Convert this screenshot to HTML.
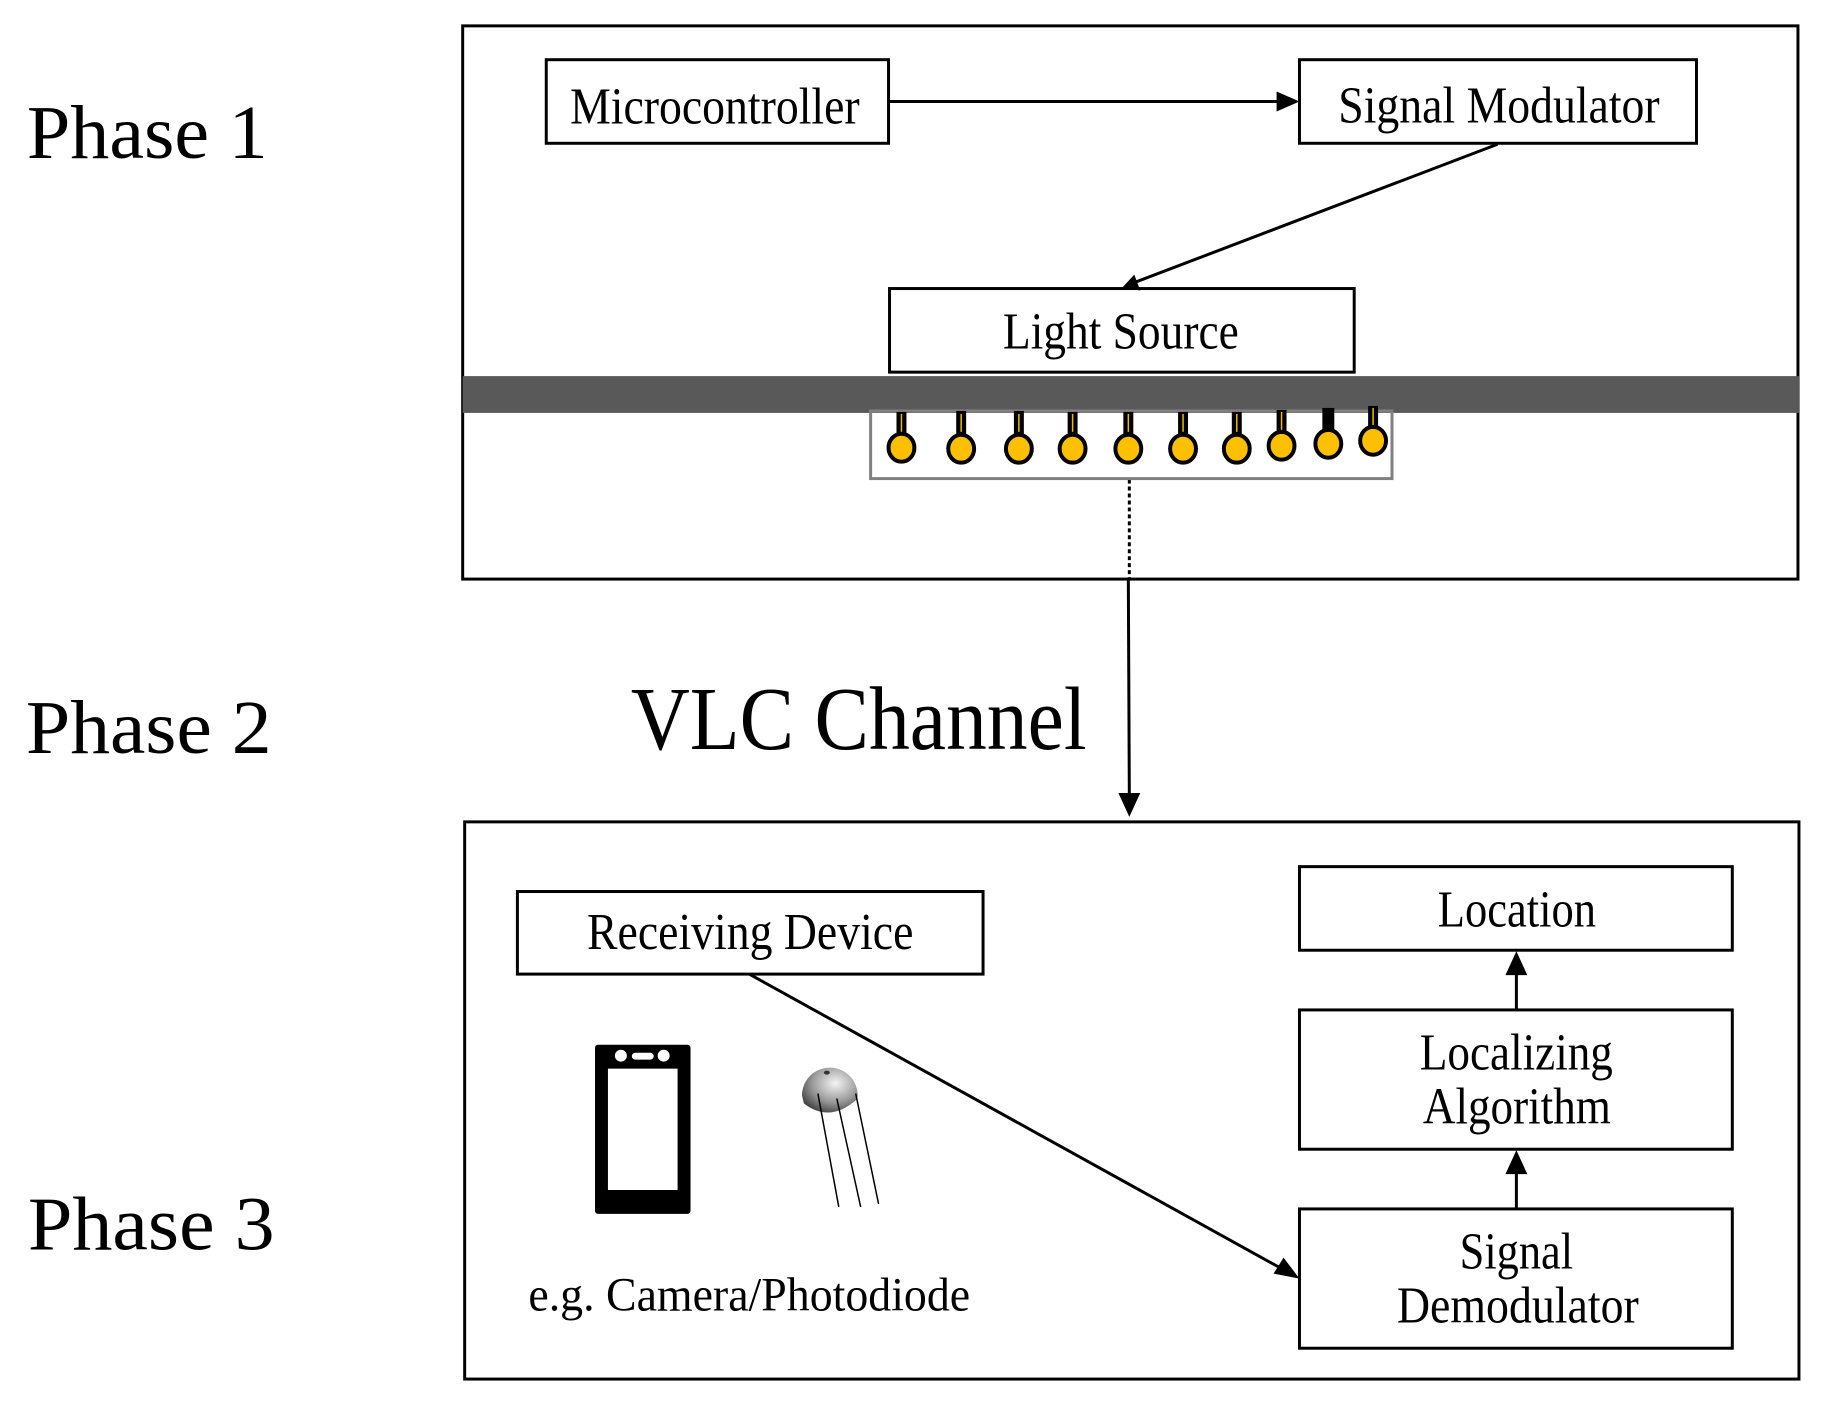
<!DOCTYPE html>
<html><head><meta charset="utf-8"><style>
html,body{margin:0;padding:0;background:#fff}
svg{display:block}
text{font-family:"Liberation Serif",serif;fill:#000}
</style></head><body>
<svg width="1822" height="1408" viewBox="0 0 1822 1408" xmlns="http://www.w3.org/2000/svg">
<defs><radialGradient id="dg" cx="0.6" cy="0.35" r="0.7"><stop offset="0" stop-color="#f4f4f4"/><stop offset="0.6" stop-color="#999"/><stop offset="1" stop-color="#444"/></radialGradient></defs>
<g transform="scale(0.995)">
<g fill="none" stroke="#000" stroke-width="3">
<rect x="465" y="26" width="1342" height="556"/>
<rect x="467" y="826" width="1341" height="560"/>
<rect x="549" y="60" width="344" height="84"/>
<rect x="1306" y="60" width="399" height="84"/>
<rect x="894" y="290" width="467" height="84"/>
<rect x="520" y="896" width="468" height="83"/>
<rect x="1306" y="871" width="435" height="84"/>
<rect x="1306" y="1015" width="435" height="140"/>
<rect x="1306" y="1215" width="435" height="140"/>
</g>
<g stroke="#000" stroke-width="3" fill="none">
<line x1="893" y1="102" x2="1285" y2="102"/>
<line x1="1505" y1="145" x2="1140" y2="284"/>
<line x1="1135" y1="482" x2="1135" y2="582" stroke-dasharray="4,3"/>
<line x1="1134" y1="582" x2="1135" y2="800"/>
<line x1="1524" y1="1015" x2="1524" y2="975"/>
<line x1="1524" y1="1215" x2="1524" y2="1175"/>
<line x1="753" y1="979" x2="1288" y2="1275"/>
</g>
<g fill="#000">
<polygon points="1306,102 1283,92 1283,112"/>
<polygon points="1128,289 1140,276 1146,292"/>
<polygon points="1135,821 1124,797 1146,797"/>
<polygon points="1524,956 1513,980 1535,980"/>
<polygon points="1524,1156 1513,1180 1535,1180"/>
<polygon points="1306,1285 1280,1280 1290,1264"/>
</g>
<rect x="465" y="378" width="1343" height="37" fill="#595959"/>
<rect x="875" y="413" width="524" height="68" fill="none" stroke="#808080" stroke-width="3"/>
<g>
<g transform="translate(906,0)"><rect x="-5" y="414" width="10" height="24" fill="#000"/><line x1="0" y1="416" x2="0" y2="434" stroke="#f4b800" stroke-width="1.5"/><ellipse cx="0" cy="450" rx="13" ry="14" fill="#fcc000" stroke="#000" stroke-width="4"/></g>
<g transform="translate(966,0)"><rect x="-5" y="413" width="10" height="24" fill="#000"/><line x1="0" y1="416" x2="0" y2="434" stroke="#f4b800" stroke-width="1.5"/><ellipse cx="0" cy="451" rx="13" ry="14" fill="#fcc000" stroke="#000" stroke-width="4"/></g>
<g transform="translate(1024,0)"><rect x="-5" y="413" width="10" height="24" fill="#000"/><line x1="0" y1="416" x2="0" y2="434" stroke="#f4b800" stroke-width="1.5"/><ellipse cx="0" cy="451" rx="13" ry="14" fill="#fcc000" stroke="#000" stroke-width="4"/></g>
<g transform="translate(1078,0)"><rect x="-5" y="414" width="10" height="24" fill="#000"/><line x1="0" y1="416" x2="0" y2="434" stroke="#f4b800" stroke-width="1.5"/><ellipse cx="0" cy="451" rx="13" ry="14" fill="#fcc000" stroke="#000" stroke-width="4"/></g>
<g transform="translate(1134,0)"><rect x="-5" y="414" width="10" height="24" fill="#000"/><line x1="0" y1="416" x2="0" y2="434" stroke="#f4b800" stroke-width="1.5"/><ellipse cx="0" cy="451" rx="13" ry="14" fill="#fcc000" stroke="#000" stroke-width="4"/></g>
<g transform="translate(1189,0)"><rect x="-5" y="414" width="10" height="24" fill="#000"/><line x1="0" y1="416" x2="0" y2="434" stroke="#f4b800" stroke-width="1.5"/><ellipse cx="0" cy="451" rx="13" ry="14" fill="#fcc000" stroke="#000" stroke-width="4"/></g>
<g transform="translate(1243,0)"><rect x="-5" y="414" width="10" height="24" fill="#000"/><line x1="0" y1="416" x2="0" y2="434" stroke="#f4b800" stroke-width="1.5"/><ellipse cx="0" cy="451" rx="13" ry="14" fill="#fcc000" stroke="#000" stroke-width="4"/></g>
<g transform="translate(1288,0)"><rect x="-5" y="412" width="10" height="24" fill="#000"/><line x1="0" y1="414" x2="0" y2="432" stroke="#f4b800" stroke-width="1.5"/><ellipse cx="0" cy="448" rx="13" ry="14" fill="#fcc000" stroke="#000" stroke-width="4"/></g>
<g transform="translate(1335,0)"><rect x="-6" y="410" width="12" height="24" fill="#000"/><ellipse cx="0" cy="446" rx="13" ry="14" fill="#fcc000" stroke="#000" stroke-width="4"/></g>
<g transform="translate(1380,0)"><rect x="-5" y="408" width="10" height="24" fill="#000"/><line x1="0" y1="410" x2="0" y2="428" stroke="#f4b800" stroke-width="1.5"/><ellipse cx="0" cy="443" rx="13" ry="14" fill="#fcc000" stroke="#000" stroke-width="4"/></g>
</g>
<g transform="translate(4,6)">
<rect x="594" y="1044" width="96" height="170" rx="3" fill="#000"/>
<rect x="607" y="1068" width="70" height="122" fill="#fff"/>
<circle cx="620" cy="1055" r="6" fill="#fff"/>
<circle cx="663" cy="1055" r="6" fill="#fff"/>
<rect x="631" y="1052" width="22" height="7" rx="3.5" fill="#fff"/>
</g>
<g transform="translate(5,5)">
<path d="M801,1096 A28,28 0 0 1 857,1096 L856,1100 Q829,1124 803,1104 Z" fill="url(#dg)"/>
<ellipse cx="826" cy="1073" rx="3" ry="2" fill="#333"/>
<g stroke="#000" stroke-width="1.5"><line x1="817" y1="1094" x2="838" y2="1208"/><line x1="836" y1="1099" x2="860" y2="1208"/><line x1="855" y1="1094" x2="878" y2="1205"/></g>
</g>
<text x="27" y="159" font-size="77" textLength="242" lengthAdjust="spacingAndGlyphs">Phase 1</text>
<text x="26" y="757" font-size="77" textLength="247" lengthAdjust="spacingAndGlyphs">Phase 2</text>
<text x="28" y="1256" font-size="77" textLength="248" lengthAdjust="spacingAndGlyphs">Phase 3</text>
<text x="634" y="753" font-size="90" textLength="458" lengthAdjust="spacingAndGlyphs">VLC Channel</text>
<text x="573" y="124" font-size="52" textLength="291" lengthAdjust="spacingAndGlyphs">Microcontroller</text>
<text x="1345" y="123" font-size="52" textLength="323" lengthAdjust="spacingAndGlyphs">Signal Modulator</text>
<text x="1008" y="350" font-size="52" textLength="237" lengthAdjust="spacingAndGlyphs">Light Source</text>
<text x="590" y="954" font-size="52" textLength="328" lengthAdjust="spacingAndGlyphs">Receiving Device</text>
<text x="1445" y="931" font-size="52" textLength="159" lengthAdjust="spacingAndGlyphs">Location</text>
<text x="1427" y="1075" font-size="52" textLength="194" lengthAdjust="spacingAndGlyphs">Localizing</text>
<text x="1430" y="1129" font-size="52" textLength="189" lengthAdjust="spacingAndGlyphs">Algorithm</text>
<text x="1467" y="1275" font-size="52" textLength="114" lengthAdjust="spacingAndGlyphs">Signal</text>
<text x="1404" y="1329" font-size="52" textLength="243" lengthAdjust="spacingAndGlyphs">Demodulator</text>
<text x="531" y="1317" font-size="48" textLength="444" lengthAdjust="spacingAndGlyphs">e.g. Camera/Photodiode</text>
</g>
</svg>
</body></html>
